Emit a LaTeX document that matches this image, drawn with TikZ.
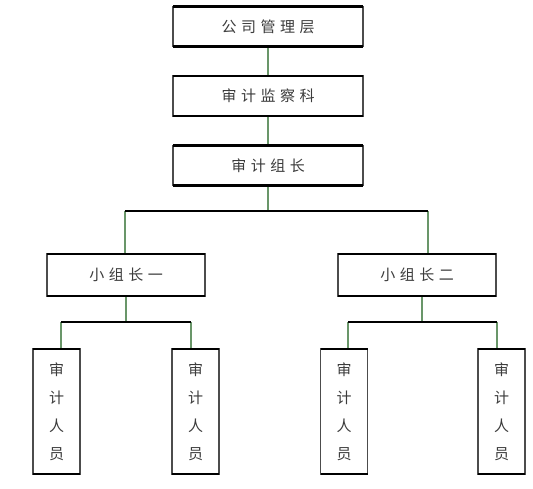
\documentclass[tikz,border=0pt]{standalone}
\usepackage{fontspec}
\newfontfamily\cjk[LetterSpace=30]{Noto Sans CJK SC}
\newfontfamily\cjkv{Noto Sans CJK SC}
\usetikzlibrary{positioning,calc}
\definecolor{vgreen}{RGB}{105,150,105}
\definecolor{ink}{RGB}{60,60,60}
\tikzset{
  box/.style={draw=black!70, line width=1.2pt, fill=white, text=ink, inner sep=0pt, outer sep=0pt,
    minimum width=190pt, minimum height=40pt, font=\cjk\fontsize{15}{17}\selectfont},
  lead/.style={box, minimum width=158pt, minimum height=42pt},
  staff/.style={box, minimum width=47pt, minimum height=125pt, align=center,
    font=\cjkv\fontsize{15}{28}\selectfont},
  bar/.style={black, line width=2pt},
  link/.style={vgreen, line width=1.6pt},
  rim/.style={black, line width=2.2pt}
}
\begin{document}
\begin{tikzpicture}[x=1pt,y=-1pt]
    \useasboundingbox (0,0) rectangle (533,488);
    \node[box] (top) at (268,26.5) {公司管理层};
    \node[box] (office) at (268,96) {审计监察科};
    \node[box] (head) at (268,165.5) {审计组长};
    \node[lead] (lead1) at (126,275) {小组长一};
    \node[lead] (lead2) at (417,275) {小组长二};
    \foreach \n / \x in {staff1/56.5,staff2/195.5,staff3/344,staff4/501.5}
    \node[staff] (\n) at (\x,411.5) {审\\计\\人\\员};
    %
    \coordinate (barL) at (125,211);
    \coordinate (barR) at (428,211);
    \coordinate (subL1) at (61,322);
    \coordinate (subL2) at (191,322);
    \coordinate (subR1) at (348,322);
    \coordinate (subR2) at (497,322);
    \coordinate (subRm) at (422,322);
    %
    \draw[link] (top.south) -- (office.north);
    \draw[link] (office.south) -- (head.north);
    \draw[link] (head.south) -- (head.south |- barL);
    \draw[link] (barL) -- (barL |- lead1.north);
    \draw[link] (barR) -- (barR |- lead2.north);
    \draw[link] (lead1.south) -- (lead1.south |- subL1);
    \draw[link] (subRm |- lead2.south) -- (subRm);
    \foreach \s / \n in {subL1/staff1,subL2/staff2,subR1/staff3,subR2/staff4}
    \draw[link] (\s) -- (\s |- \n.north);
    %
    \draw[bar] (barL) -- (barR);
    \draw[bar] (subL1) -- (subL2);
    \draw[bar] (subR1) -- (subR2);
    \foreach \n in {top,office,head,lead1,lead2,staff1,staff2,staff3,staff4}
    \draw[rim] (\n.north west) -- (\n.north east) (\n.south west) -- (\n.south east);
\end{tikzpicture}
\end{document}
